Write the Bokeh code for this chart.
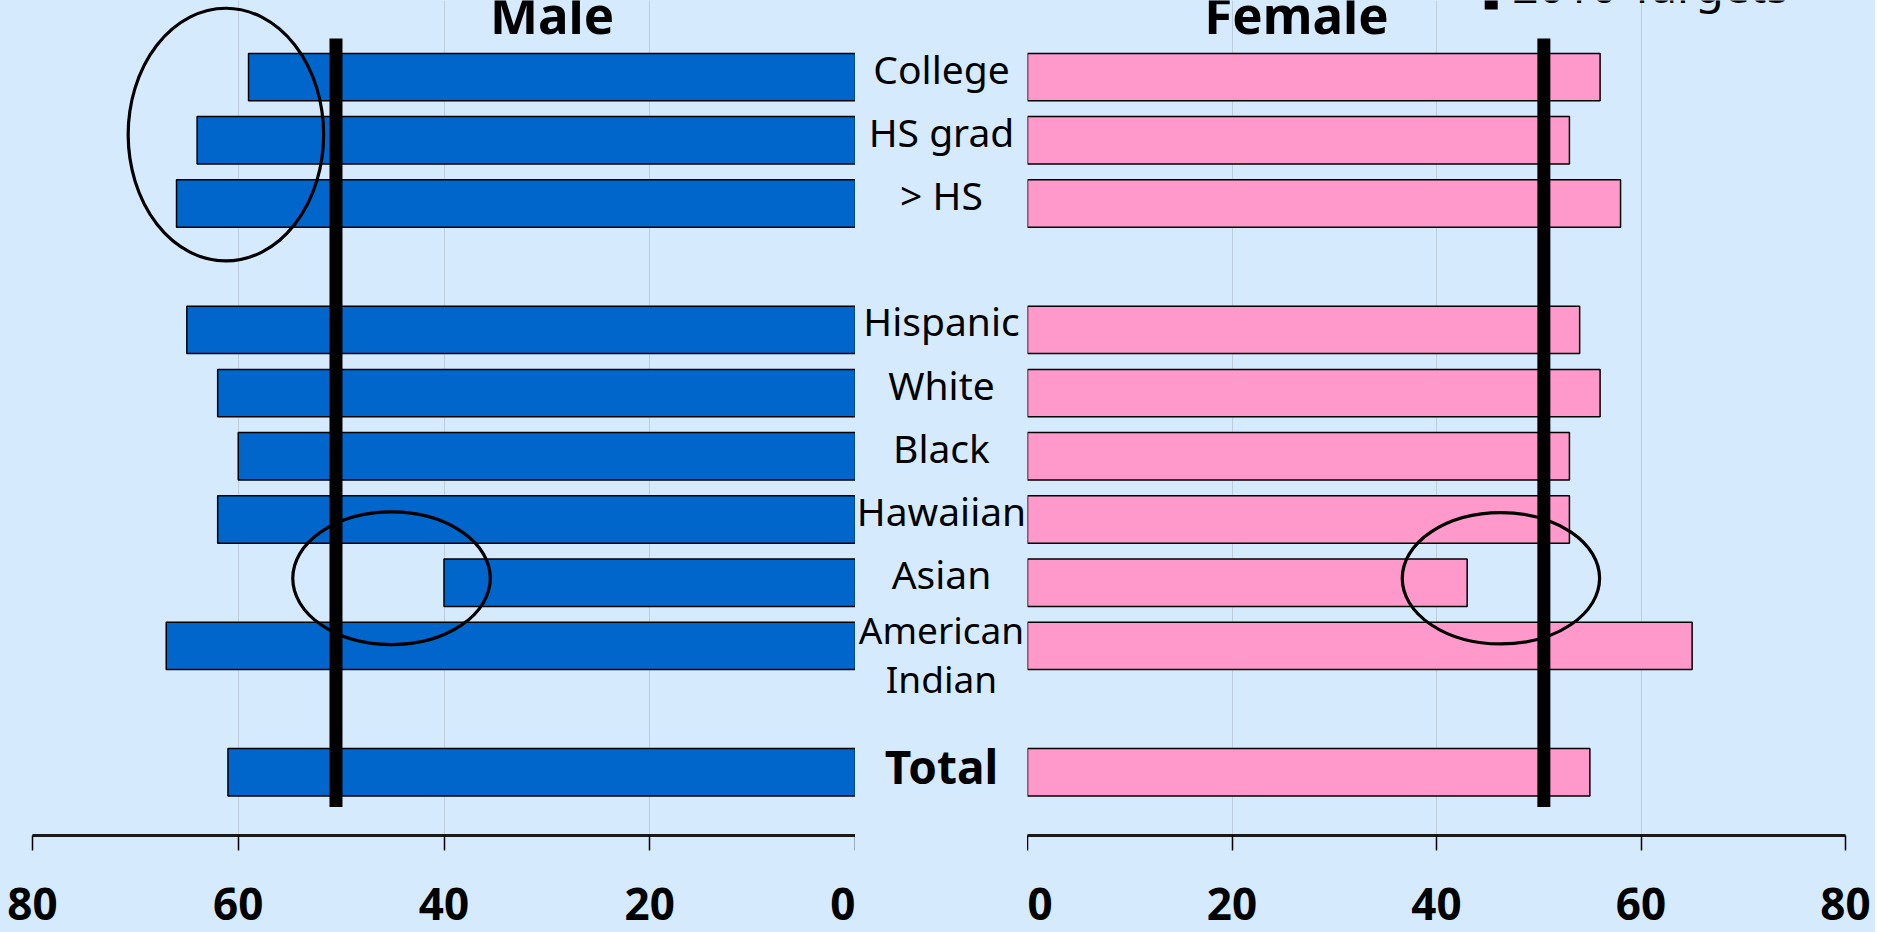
from bokeh.plotting import figure
from bokeh.layouts import row
from bokeh.models import Range1d, FixedTicker, ColumnDataSource
from bokeh.core.properties import value
from bokeh.embed import file_html
from bokeh.resources import INLINE

# ---- data ----
categories = ["College", "HS grad", "> HS", "Hispanic", "White", "Black",
              "Hawaiian", "Asian", "American\nIndian", "Total"]
rows = [0, 1, 2, 4, 5, 6, 7, 8, 9, 11]
male = [59, 64, 66, 65, 62, 60, 62, 40, 67, 61]
female = [56, 53, 58, 54, 56, 53, 53, 43, 65, 55]
target_2010 = 50.5
ticks = [0, 20, 40, 60, 80]
panel_titles = ["Male", "Female"]
legend_label = "2010 Targets"
# highlight ellipses: (x, y-row, width, height)
male_highlights = [(61.2, 0.91, 19.0, 4.0), (45.1, 7.93, 19.2, 2.1)]
female_highlights = [(46.3, 7.93, 19.3, 2.08)]

BG = "#D6EAFD"
BLUE = "#0066CC"
PINK = "#FF99CC"
FONT = "Noto Sans"

H = 932
BOTTOM = 97
y_range = Range1d(start=12.0, end=-1.212)


def panel(x_range, width, left_border, right_border, values, color, highlights):
    p = figure(width=width, height=H, x_range=x_range, y_range=y_range,
               output_backend="svg", toolbar_location=None,
               min_border_left=left_border, min_border_right=right_border,
               min_border_top=0, min_border_bottom=BOTTOM)
    p.background_fill_color = BG
    p.border_fill_color = BG
    p.outline_line_color = None
    p.yaxis.visible = False
    p.ygrid.visible = False
    p.xaxis.ticker = FixedTicker(ticks=ticks)
    p.xgrid.ticker = FixedTicker(ticks=ticks)
    p.xgrid.grid_line_color = "#b4c0cc"
    p.xgrid.grid_line_alpha = 0.7
    p.xgrid.grid_line_width = 1
    ax = p.xaxis[0]
    ax.axis_line_color = "#1a1a1a"
    ax.axis_line_width = 3
    ax.major_tick_line_color = "black"
    ax.major_tick_line_width = 1.5
    ax.major_tick_out = 15
    ax.major_tick_in = 0
    ax.minor_tick_line_color = None
    ax.major_label_standoff = 37
    ax.major_label_text_font = FONT
    ax.major_label_text_font_style = "bold"
    ax.major_label_text_font_size = "44px"
    ax.major_label_text_color = "black"

    src = ColumnDataSource(dict(y=rows, v=values))
    p.hbar(y="y", left=0, right="v", height=0.75, source=src,
           fill_color=color, line_color="black", line_width=1.5)
    p.segment(x0=[target_2010], x1=[target_2010],
              y0=[rows[0] - 0.61], y1=[rows[-1] + 0.55],
              line_color="black", line_width=13)
    p.ellipse(x=[h[0] for h in highlights], y=[h[1] for h in highlights],
              width=[h[2] for h in highlights], height=[h[3] for h in highlights],
              fill_color=None, line_color="black", line_width=3.2)
    return p


left = panel(Range1d(80, 0), 855, 32, 0, male, BLUE, male_highlights)
right = panel(Range1d(0, 80), 848, 0, 30, female, PINK, female_highlights)

left.text(x=[29.5], y=[-0.998], text=[panel_titles[0]], text_font=value(FONT),
          text_font_style="bold", text_font_size="51px", text_align="center",
          text_baseline="middle", text_color="black")
right.text(x=[26.3], y=[-0.998], text=[panel_titles[1]], text_font=value(FONT),
           text_font_style="bold", text_font_size="51px", text_align="center",
           text_baseline="middle", text_color="black")
# legend (cut off at the top edge, as in the original)
right.segment(x0=[45.35], x1=[45.35], y0=[-1.3], y1=[-1.07],
              line_color="black", line_width=13)
right.text(x=[47.4], y=[-1.45], text=[legend_label], text_font=value(FONT),
           text_font_size="46px", text_align="left",
           text_baseline="middle", text_color="black")

mid = figure(width=172, height=H, x_range=Range1d(0, 1), y_range=y_range,
             output_backend="svg", toolbar_location=None,
             min_border_left=0, min_border_right=0,
             min_border_top=0, min_border_bottom=BOTTOM)
mid.background_fill_color = BG
mid.border_fill_color = BG
mid.outline_line_color = None
mid.axis.visible = False
mid.grid.visible = False

normal_idx = [i for i, c in enumerate(categories) if c != "Total" and "\n" not in c]
mid.text(x=[0.5] * len(normal_idx), y=[rows[i] for i in normal_idx],
         text=[categories[i] for i in normal_idx], text_font=value(FONT),
         text_font_size="39px", text_align="center", text_baseline="middle",
         y_offset=-9, text_color="black")
multi_idx = [i for i, c in enumerate(categories) if "\n" in c]
mid.text(x=[0.5] * len(multi_idx), y=[rows[i] for i in multi_idx],
         text=[categories[i] for i in multi_idx], text_font=value(FONT),
         text_font_size="37px", text_align="center", text_baseline="middle",
         text_line_height=0.97, y_offset=8, text_color="black")
total_idx = categories.index("Total")
mid.text(x=[0.5], y=[rows[total_idx]], text=[categories[total_idx]],
         text_font=value(FONT), text_font_style="bold", text_font_size="46px",
         text_align="center", text_baseline="middle", y_offset=-6,
         text_color="black")

layout = row(left, mid, right, spacing=0)
layout.background = BG

open("out.html", "w").write(file_html(layout, INLINE))
